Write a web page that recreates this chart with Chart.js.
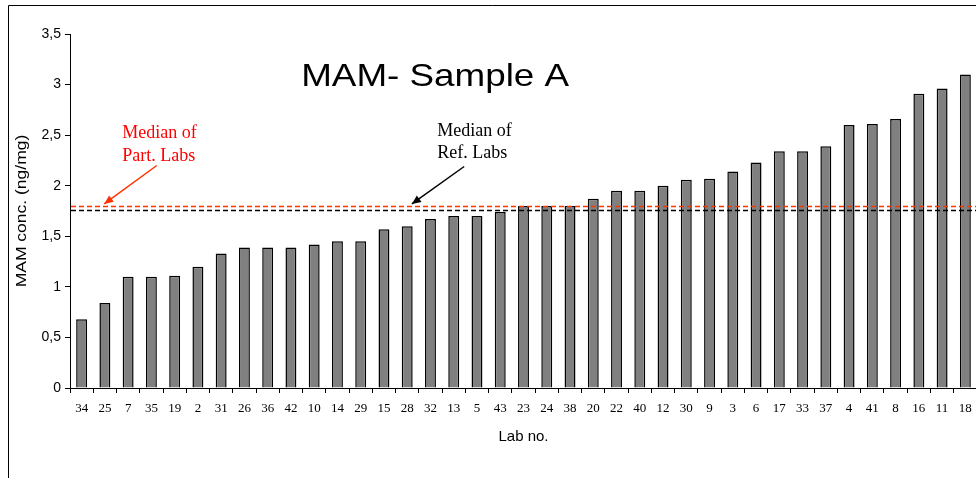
<!DOCTYPE html>
<html>
<head>
<meta charset="utf-8">
<script src="https://cdn.jsdelivr.net/npm/chart.js@4.4.0/dist/chart.umd.min.js"></script>
<style>
  html, body { margin: 0; padding: 0; background: #fff; overflow: hidden; }
  #wrap { position: relative; width: 977px; height: 478px; }
</style>
</head>
<body>
<div id="wrap"><canvas id="chart"></canvas></div>
<script>
// lab numbers, sorted by result
const labs = ['34', '25', '7', '35', '19', '2', '31', '26', '36', '42', '10', '14', '29', '15', '28', '32', '13', '5', '43', '23',
    '24', '38', '20', '22', '40', '12', '30', '9', '3', '6', '17', '33', '37', '4', '41', '8', '16', '11', '18'];

// MAM conc. (ng/mg)
const mamValues = [0.68, 0.84, 1.10, 1.10, 1.11, 1.20, 1.33, 1.39, 1.39, 1.39, 1.42, 1.45, 1.45, 1.57, 1.60, 1.67, 1.70, 1.70, 1.74, 1.80,
    1.80, 1.80, 1.87, 1.95, 1.95, 2.00, 2.06, 2.07, 2.14, 2.23, 2.34, 2.34, 2.39, 2.60, 2.61, 2.66, 2.91, 2.96, 3.10];

const medianPart = 1.80;
const medianRef = 1.76;

// callouts: text lines plus arrow, positioned in data units (x = category index)
const callouts = [
    { lines: ['Median of', 'Part. Labs'], color: '#ff0000', arrowColor: '#ff3300', textX: 1.75, textY: [2.47, 2.245], from: [3.23, 2.20], to: [0.97, 1.82] },
    { lines: ['Median of', 'Ref. Labs'], color: '#000000', arrowColor: '#000000', textX: 15.29, textY: [2.49, 2.27], from: [16.45, 2.19], to: [14.2, 1.82] },
];

const sans = '"Liberation Sans", Arial, sans-serif';
const serif = '"Liberation Serif", "Times New Roman", serif';

// the original text is a bit wider than Arial, so stretch it horizontally
function stretchedText(ctx, text, x, y, stretch) {
    ctx.save();
    ctx.translate(x, y);
    ctx.scale(stretch, 1);
    ctx.fillText(text, 0, 0);
    ctx.restore();
}

const decorations = {
    id: 'decorations',
    afterDatasetsDraw(chart) {
        const { ctx, chartArea, scales: { x, y } } = chart;
        ctx.save();

        // median lines
        [[medianRef, '#000000'], [medianPart, '#ff3300']].forEach(([v, col]) => {
            const py = Math.round(y.getPixelForValue(v)) + 0.5;
            ctx.strokeStyle = col;
            ctx.lineWidth = 1.5;
            ctx.setLineDash([5, 3]);
            ctx.beginPath();
            ctx.moveTo(chartArea.left + 1, py);
            ctx.lineTo(chartArea.right, py);
            ctx.stroke();
        });
        ctx.setLineDash([]);

        // title inside the plot
        ctx.fillStyle = '#000';
        ctx.font = '32px ' + sans;
        ctx.textAlign = 'center';
        ctx.textBaseline = 'alphabetic';
        stretchedText(ctx, 'MAM- Sample A', x.getPixelForValue(15.2), y.getPixelForValue(2.99), 1.15);

        // y axis title
        ctx.save();
        ctx.font = '14px ' + sans;
        ctx.textAlign = 'center';
        ctx.textBaseline = 'middle';
        ctx.translate(22, (chartArea.top + chartArea.bottom) / 2);
        ctx.rotate(-Math.PI / 2);
        stretchedText(ctx, 'MAM conc. (ng/mg)', 0, 0, 1.25);
        ctx.restore();

        // callouts
        callouts.forEach(c => {
            ctx.fillStyle = c.color;
            ctx.font = '18px ' + serif;
            ctx.textAlign = 'left';
            c.lines.forEach((t, i) => ctx.fillText(t, x.getPixelForValue(c.textX), y.getPixelForValue(c.textY[i])));

            const x1 = x.getPixelForValue(c.from[0]), y1 = y.getPixelForValue(c.from[1]);
            const x2 = x.getPixelForValue(c.to[0]), y2 = y.getPixelForValue(c.to[1]);
            ctx.strokeStyle = c.arrowColor;
            ctx.fillStyle = c.arrowColor;
            ctx.lineWidth = 1.5;
            ctx.beginPath();
            ctx.moveTo(x1, y1);
            ctx.lineTo(x2, y2);
            ctx.stroke();
            const ang = Math.atan2(y2 - y1, x2 - x1);
            const len = 9, half = 4;
            ctx.beginPath();
            ctx.moveTo(x2, y2);
            ctx.lineTo(x2 - len * Math.cos(ang) + half * Math.sin(ang), y2 - len * Math.sin(ang) - half * Math.cos(ang));
            ctx.lineTo(x2 - len * Math.cos(ang) - half * Math.sin(ang), y2 - len * Math.sin(ang) + half * Math.cos(ang));
            ctx.closePath();
            ctx.fill();
        });

        // outer frame (left and top edges visible)
        ctx.strokeStyle = '#000';
        ctx.lineWidth = 1;
        ctx.beginPath();
        ctx.moveTo(8.5, chart.height);
        ctx.lineTo(8.5, 5.5);
        ctx.lineTo(chart.width, 5.5);
        ctx.stroke();

        ctx.restore();
    }
};

new Chart(document.getElementById('chart'), {
    type: 'bar',
    data: {
        labels: labs,
        datasets: [{
            data: mamValues,
            backgroundColor: '#808080',
            borderColor: '#000000',
            borderWidth: 1.5,
            barPercentage: 0.47,
            categoryPercentage: 1,
        }]
    },
    options: {
        responsive: true,
        maintainAspectRatio: false,
        animation: false,
        layout: {
            padding: { top: 34, bottom: 30, left: 0, right: 0 }
        },
        plugins: {
            legend: { display: false },
            tooltip: { enabled: false },
        },
        scales: {
            x: {
                offset: true,
                afterFit: (scale) => {
                    scale.height = 60;
                    scale.paddingLeft = 0;
                    scale.paddingRight = 0;
                },
                grid: {
                    offset: true,
                    drawOnChartArea: false,
                    drawTicks: true,
                    tickLength: 5,
                    color: '#000',
                },
                border: { display: true, color: '#000', width: 1 },
                ticks: {
                    color: '#000',
                    padding: 8,
                    maxRotation: 0,
                    autoSkip: false,
                    font: { family: serif, size: 13 },
                },
                title: {
                    display: true,
                    text: 'Lab no.',
                    color: '#000',
                    padding: { top: 4, bottom: 2 },
                    font: { family: sans, size: 15 },
                }
            },
            y: {
                min: 0,
                max: 3.5,
                afterFit: (scale) => {
                    scale.width = 70;
                },
                grid: {
                    drawOnChartArea: false,
                    drawTicks: true,
                    tickLength: 5,
                    color: '#000',
                },
                border: { display: true, color: '#000', width: 1 },
                ticks: {
                    stepSize: 0.5,
                    color: '#000',
                    padding: 4,
                    font: { family: sans, size: 14 },
                    callback: (v) => String(v).replace('.', ','),
                },
                title: { display: false }
            }
        }
    },
    plugins: [decorations]
});
</script>
</body>
</html>
